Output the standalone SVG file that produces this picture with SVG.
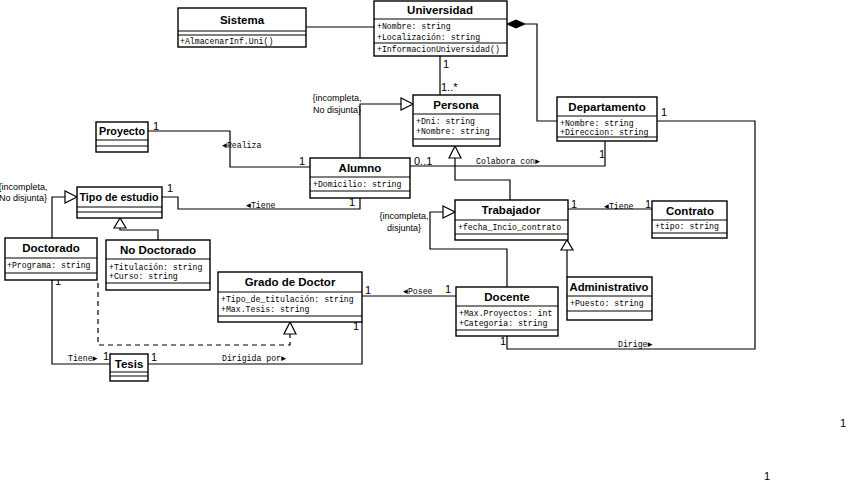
<svg xmlns="http://www.w3.org/2000/svg" width="848" height="485" viewBox="0 0 848 485">
<style>
.box{fill:#fff;stroke:#000;stroke-width:1.4}
.sep{stroke:#000;stroke-width:1.2}
.t{font-family:"Liberation Sans",Arial,sans-serif;font-weight:bold;font-size:11.5px;text-anchor:middle;fill:#000}
.a{font-family:"Liberation Mono","Courier New",monospace;font-size:8.2px;fill:#000}
.l{font-family:"Liberation Mono","Courier New",monospace;font-size:8.2px;fill:#000}
.m{font-family:"Liberation Sans",Arial,sans-serif;font-size:11px;fill:#000}
.c{font-family:"Liberation Sans",Arial,sans-serif;font-size:9px;fill:#000}
.ln{fill:none;stroke:#000;stroke-width:1.2}
.dash{fill:none;stroke:#000;stroke-width:1.2;stroke-dasharray:5,4}
.tri{fill:#fff;stroke:#000;stroke-width:1.2}
</style>
<rect width="848" height="485" fill="#fff"/>
<g id="connectors">
<path class="ln" d="M306,27 H374"/>
<path class="ln" d="M525,24 H537 V121 H557"/>
<polygon points="507,24 516,20 525,24 516,28" fill="#000" stroke="#000"/>
<path class="ln" d="M440,56 V95"/>
<path class="ln" d="M360,158 V104 H401"/>
<polygon class="tri" points="413,104 401,98 401,110"/>
<path class="ln" d="M455,158 V180 H510 V200"/>
<polygon class="tri" points="455,146 449,158 461,158"/>
<path class="ln" d="M148,131 H230 V167 H310"/>
<path class="ln" d="M410,166 H605 V141"/>
<path class="ln" d="M360,198 V209 H178 V197 H162"/>
<path class="ln" d="M52,238 V197 H65"/>
<polygon class="tri" points="77,197 65,191 65,203"/>
<path class="ln" d="M120,228 V230 H158 V240"/>
<polygon class="tri" points="120,218 114,228 126,228"/>
<path class="ln" d="M52,280 V364 H110"/>
<path class="dash" d="M98,283 V345 H290 V334"/>
<polygon class="tri" points="290,322 284,334 296,334"/>
<path class="ln" d="M362,322 V364 H148"/>
<path class="ln" d="M362,296 H456"/>
<path class="ln" d="M507,287 V249 H430 V212 H443"/>
<polygon class="tri" points="455,212 443,206 443,218"/>
<path class="ln" d="M567,250 V277"/>
<polygon class="tri" points="567,240 561,250 573,250"/>
<path class="ln" d="M568,209 H652"/>
<path class="ln" d="M507,336 V349 H755 V121 H657"/>
</g>
<g id="labels">
<text class="m" x="443" y="68">1</text>
<text class="m" x="441" y="91">1..*</text>
<text class="c" x="337" y="101" text-anchor="middle">{incompleta,</text>
<text class="c" x="337" y="113" text-anchor="middle">No disjunta}</text>
<text class="m" x="153" y="130">1</text>
<text class="l" x="222" y="148">◄Realiza</text>
<text class="m" x="299" y="165">1</text>
<text class="m" x="414" y="165">0..1</text>
<text class="l" x="476" y="164">Colabora con►</text>
<text class="m" x="599" y="158">1</text>
<text class="m" x="167" y="192">1</text>
<text class="l" x="246" y="208">◄Tiene</text>
<text class="m" x="349" y="206">1</text>
<text class="c" x="23" y="190" text-anchor="middle">{incompleta,</text>
<text class="c" x="23" y="201" text-anchor="middle">No disjunta}</text>
<text class="m" x="55" y="285">1</text>
<text class="l" x="68" y="361">Tiene►</text>
<text class="m" x="103" y="360">1</text>
<text class="m" x="151" y="361">1</text>
<text class="l" x="222" y="361">Dirigida por►</text>
<text class="m" x="365" y="294">1</text>
<text class="l" x="403" y="294">◄Posee</text>
<text class="m" x="445" y="293">1</text>
<text class="m" x="353" y="330">1</text>
<text class="c" x="404" y="219" text-anchor="middle">{incompleta,</text>
<text class="c" x="404" y="231" text-anchor="middle">disjunta}</text>
<text class="m" x="571" y="208">1</text>
<text class="l" x="604" y="209">◄Tiene</text>
<text class="m" x="645" y="208">1</text>
<text class="m" x="500" y="345">1</text>
<text class="l" x="618" y="347">Dirige►</text>
<text class="m" x="661" y="116">1</text>
<text class="m" x="840" y="427">1</text>
<text class="m" x="764" y="480">1</text>
</g>
<g id="Sistema">
<rect class="box" x="178" y="8" width="128" height="39"/>
<line class="sep" x1="178" y1="31" x2="306" y2="31"/>
<line class="sep" x1="178" y1="35" x2="306" y2="35"/>
<text class="t" x="242" y="24">Sistema</text>
<text class="a" x="180" y="44">+AlmacenarInf.Uni()</text>
</g>
<g id="Universidad">
<rect class="box" x="374" y="1" width="133" height="55"/>
<line class="sep" x1="374" y1="19" x2="507" y2="19"/>
<line class="sep" x1="374" y1="43" x2="507" y2="43"/>
<text class="t" x="440" y="14">Universidad</text>
<text class="a" x="377" y="29">+Nombre: string</text>
<text class="a" x="377" y="40">+Localización: string</text>
<text class="a" x="377" y="52">+InformacionUniversidad()</text>
</g>
<g id="Persona">
<rect class="box" x="413" y="95" width="87" height="51"/>
<line class="sep" x1="413" y1="114" x2="500" y2="114"/>
<line class="sep" x1="413" y1="139" x2="500" y2="139"/>
<text class="t" x="456" y="109">Persona</text>
<text class="a" x="416" y="124">+Dni: string</text>
<text class="a" x="416" y="134">+Nombre: string</text>
</g>
<g id="Departamento">
<rect class="box" x="557" y="97" width="100" height="44"/>
<line class="sep" x1="557" y1="116" x2="657" y2="116"/>
<line class="sep" x1="557" y1="137" x2="657" y2="137"/>
<text class="t" x="607" y="111">Departamento</text>
<text class="a" x="560" y="126">+Nombre: string</text>
<text class="a" x="560" y="135">+Direccion: string</text>
</g>
<g id="Proyecto">
<rect class="box" x="96" y="122" width="52" height="30"/>
<line class="sep" x1="96" y1="140" x2="148" y2="140"/>
<line class="sep" x1="96" y1="146" x2="148" y2="146"/>
<text class="t" x="122" y="135" textLength="46" lengthAdjust="spacingAndGlyphs">Proyecto</text>
</g>
<g id="Alumno">
<rect class="box" x="310" y="158" width="100" height="40"/>
<line class="sep" x1="310" y1="177" x2="410" y2="177"/>
<line class="sep" x1="310" y1="191" x2="410" y2="191"/>
<text class="t" x="360" y="172">Alumno</text>
<text class="a" x="313" y="187">+Domicilio: string</text>
</g>
<g id="TipoDeEstudio">
<rect class="box" x="77" y="187" width="85" height="31"/>
<line class="sep" x1="77" y1="207" x2="162" y2="207"/>
<line class="sep" x1="77" y1="212" x2="162" y2="212"/>
<text class="t" x="119" y="201" textLength="79" lengthAdjust="spacingAndGlyphs">Tipo de estudio</text>
</g>
<g id="Doctorado">
<rect class="box" x="5" y="238" width="92" height="42"/>
<line class="sep" x1="5" y1="258" x2="97" y2="258"/>
<line class="sep" x1="5" y1="273" x2="97" y2="273"/>
<text class="t" x="51" y="252">Doctorado</text>
<text class="a" x="7" y="268">+Programa: string</text>
</g>
<g id="NoDoctorado">
<rect class="box" x="106" y="240" width="104" height="50"/>
<line class="sep" x1="106" y1="259" x2="210" y2="259"/>
<line class="sep" x1="106" y1="283" x2="210" y2="283"/>
<text class="t" x="158" y="254">No Doctorado</text>
<text class="a" x="109" y="270">+Titulación: string</text>
<text class="a" x="109" y="279">+Curso: string</text>
</g>
<g id="GradoDeDoctor">
<rect class="box" x="218" y="272" width="144" height="50"/>
<line class="sep" x1="218" y1="292" x2="362" y2="292"/>
<line class="sep" x1="218" y1="316" x2="362" y2="316"/>
<text class="t" x="290" y="286">Grado de Doctor</text>
<text class="a" x="221" y="302">+Tipo_de_titulación: string</text>
<text class="a" x="221" y="312">+Max.Tesis: string</text>
</g>
<g id="Tesis">
<rect class="box" x="110" y="354" width="38" height="27"/>
<line class="sep" x1="110" y1="372" x2="148" y2="372"/>
<line class="sep" x1="110" y1="376" x2="148" y2="376"/>
<text class="t" x="129" y="368">Tesis</text>
</g>
<g id="Trabajador">
<rect class="box" x="455" y="200" width="113" height="40"/>
<line class="sep" x1="455" y1="220" x2="568" y2="220"/>
<line class="sep" x1="455" y1="234" x2="568" y2="234"/>
<text class="t" x="511" y="214">Trabajador</text>
<text class="a" x="458" y="230">+fecha_Incio_contrato</text>
</g>
<g id="Contrato">
<rect class="box" x="652" y="201" width="75" height="37"/>
<line class="sep" x1="652" y1="220" x2="727" y2="220"/>
<line class="sep" x1="652" y1="233" x2="727" y2="233"/>
<text class="t" x="690" y="215">Contrato</text>
<text class="a" x="655" y="229">+tipo: string</text>
</g>
<g id="Docente">
<rect class="box" x="456" y="287" width="102" height="49"/>
<line class="sep" x1="456" y1="306" x2="558" y2="306"/>
<line class="sep" x1="456" y1="330" x2="558" y2="330"/>
<text class="t" x="507" y="301">Docente</text>
<text class="a" x="459" y="316">+Max.Proyectos: int</text>
<text class="a" x="459" y="326">+Categoria: string</text>
</g>
<g id="Administrativo">
<rect class="box" x="567" y="277" width="85" height="43"/>
<line class="sep" x1="567" y1="296" x2="652" y2="296"/>
<line class="sep" x1="567" y1="311" x2="652" y2="311"/>
<text class="t" x="609" y="291" textLength="79" lengthAdjust="spacingAndGlyphs">Administrativo</text>
<text class="a" x="570" y="306">+Puesto: string</text>
</g>
</svg>
